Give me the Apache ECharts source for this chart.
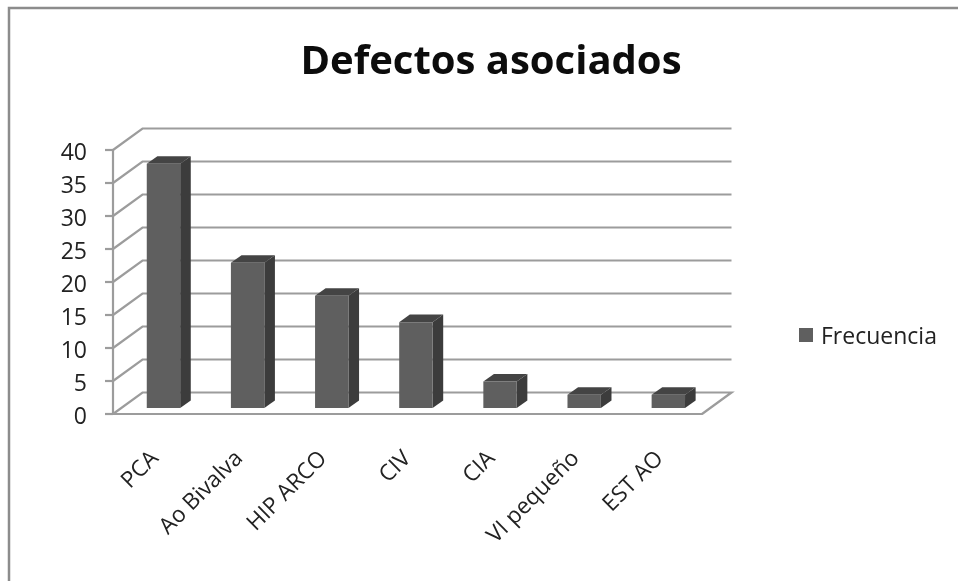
<!DOCTYPE html>
<html>
<head>
<meta charset="utf-8">
<style>html,body{margin:0;padding:0;background:#fff}#chart{width:958px;height:581px}</style>
<script src="https://cdn.jsdelivr.net/npm/echarts@6/dist/echarts.min.js"></script>
</head>
<body>
<div id="chart"></div>
<script>
const categories = ['PCA', 'Ao Bivalva', 'HIP ARCO', 'CIV', 'CIA', 'VI pequeño', 'EST AO'];
const frecuencia = [37, 22, 17, 13, 4, 2, 2];
const wallTicks = [0, 5, 10, 15, 20, 25, 30, 35, 40];

// Oblique projection offsets for the box floor and for each column
const FLOOR_DX = 29.5, FLOOR_DY = 21.5;
const BAR_DX = 10.6, BAR_DY = 7.6;
const BAR_SHIFT_X = 8.4, BAR_SHIFT_Y = 6;
const BAR_WIDTH_RATIO = 0.397;
const LINE = '#9c9c9c';
const FONT = '"Open Sans", "Noto Sans", sans-serif';

function renderWall(params, api) {
  const sys = params.coordSys;
  const y = api.coord([0, api.value(1)])[1];
  const x0 = sys.x, x1 = sys.x + sys.width;
  const isFloor = api.value(1) === 0;
  const points = [[x0, y], [x0 + FLOOR_DX, y - FLOOR_DY], [x1 + FLOOR_DX, y - FLOOR_DY]];
  if (isFloor) points.push([x1, y]);
  return {
    type: 'polyline',
    shape: { points },
    style: { stroke: LINE, lineWidth: 2.2, fill: null }
  };
}

function renderBar(params, api) {
  const idx = api.value(0);
  const top = api.coord([idx, api.value(1)]);
  const base = api.coord([idx, 0]);
  const w = api.size([1, 0])[0] * BAR_WIDTH_RATIO;
  const l = top[0] - w / 2 + BAR_SHIFT_X, r = l + w;
  const t = top[1] - BAR_SHIFT_Y, b = base[1] - BAR_SHIFT_Y;
  return {
    type: 'group',
    children: [
      { type: 'polygon', shape: { points: [[r, t], [r + BAR_DX, t - BAR_DY], [r + BAR_DX, b - BAR_DY], [r, b]] }, style: { fill: '#3c3c3c' } },
      { type: 'polygon', shape: { points: [[l, t], [l + BAR_DX, t - BAR_DY], [r + BAR_DX, t - BAR_DY], [r, t]] }, style: { fill: '#444444' } },
      { type: 'rect', shape: { x: l, y: t, width: w, height: b - t }, style: { fill: '#5f5f5f' } }
    ]
  };
}

const chart = echarts.init(document.getElementById('chart'), null, { renderer: 'canvas' });
chart.setOption({
  animation: false,
  backgroundColor: '#ffffff',
  title: {
    text: 'Defectos asociados',
    left: 486, top: 38, textAlign: 'center',
    textStyle: { fontFamily: FONT, fontWeight: 'bold', fontSize: 40, color: '#0c0c0c' }
  },
  legend: {
    left: 799, top: 326,
    data: [{ name: 'Frecuencia', icon: 'rect' }],
    itemWidth: 14, itemHeight: 14, itemGap: 0, padding: 0,
    formatter: '{t|{name}}',
    textStyle: {
      padding: [0, 0, 0, 3],
      rich: { t: { fontFamily: FONT, fontSize: 23, color: '#222', padding: [5, 0, 0, 0] } }
    }
  },
  grid: { left: 113, top: 150, width: 589, height: 264, containLabel: false },
  xAxis: {
    type: 'category',
    data: categories,
    axisLine: { lineStyle: { color: LINE, width: 2.2 } },
    axisTick: { length: 9, alignWithLabel: false, lineStyle: { color: LINE, width: 2.2 } },
    axisLabel: { rotate: 45, margin: 41, interval: 0, fontFamily: FONT, fontSize: 22.5, color: '#222' }
  },
  yAxis: {
    type: 'value', min: 0, max: 40, interval: 5,
    axisLine: { show: true, lineStyle: { color: LINE, width: 2.2 } },
    axisTick: { show: true, length: 8, lineStyle: { color: LINE, width: 2.2 } },
    splitLine: { show: false },
    axisLabel: {
      margin: 26,
      formatter: '{v|{value}}',
      rich: { v: { fontFamily: FONT, fontSize: 23, color: '#222', padding: [6, 0, 0, 0] } }
    }
  },
  graphic: [{
    type: 'polyline',
    silent: true,
    shape: { points: [[9, 581], [9, 8], [958, 8]] },
    style: { stroke: '#8c8c8c', lineWidth: 2.5, fill: null }
  }],
  series: [
    {
      name: 'Paredes', type: 'custom', renderItem: renderWall, clip: false, z: 1, silent: true,
      data: wallTicks.map(v => [0, v]), encode: { x: 0, y: 1 }
    },
    {
      name: 'Frecuencia', type: 'custom', renderItem: renderBar, clip: false, z: 2,
      itemStyle: { color: '#5f5f5f' },
      data: frecuencia.map((v, i) => [i, v]), encode: { x: 0, y: 1 }
    }
  ]
});
</script>
</body>
</html>
